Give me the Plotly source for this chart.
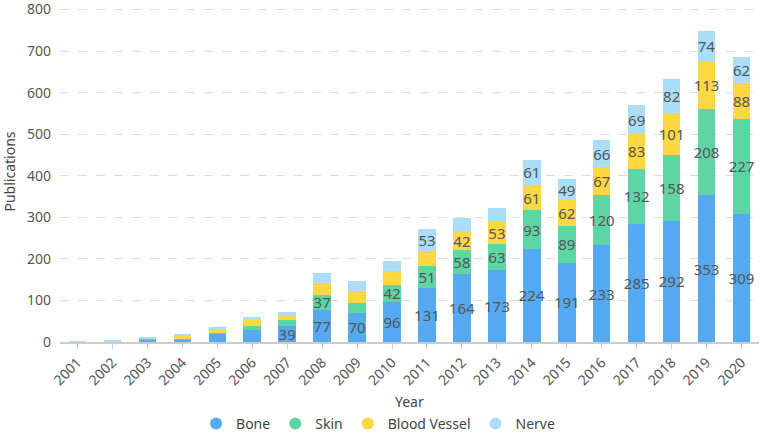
import plotly.graph_objects as go

years = [str(y) for y in range(2001, 2021)]
bone   = [0, 0, 4, 6, 20, 30, 39, 77, 70, 96, 131, 164, 173, 224, 191, 233, 285, 292, 353, 309]
skin   = [1, 1, 5, 1, 2, 8, 15, 37, 25, 42, 51, 58, 63, 93, 89, 120, 132, 158, 208, 227]
vessel = [0, 0, 0, 9, 10, 18, 12, 27, 28, 32, 36, 42, 53, 61, 62, 67, 83, 101, 113, 88]
nerve  = [1, 2, 1, 2, 4, 5, 6, 25, 24, 24, 53, 35, 33, 61, 49, 66, 69, 82, 74, 62]
y_ticks = [0, 100, 200, 300, 400, 500, 600, 700, 800]

series = [("Bone", bone, "#56a9f1"), ("Skin", skin, "#5dd6a6"),
          ("Blood Vessel", vessel, "#fed744"), ("Nerve", nerve, "#a9ddf9")]
label_min = 37
FONT = "Noto Sans"

fig = go.Figure()
for name, vals, col in series:
    fig.add_trace(go.Bar(
        x=years, y=vals, name=name, marker=dict(color=col, line=dict(width=0)),
        text=[str(v) if v >= label_min else "" for v in vals],
        textposition="inside", insidetextanchor="middle", textangle=0,
        textfont=dict(family=FONT, size=15, color="#555555"),
        constraintext="none", cliponaxis=False,
        showlegend=False, hoverinfo="x+y+name"))
for name, vals, col in series:
    fig.add_trace(go.Scatter(
        x=[None], y=[None], mode="markers", name=name,
        marker=dict(symbol="circle", size=12, color=col), showlegend=True))

fig.update_layout(
    barmode="stack", bargap=0.5,
    width=761, height=433,
    margin=dict(l=60, r=2, t=1, b=91, autoexpand=False),
    plot_bgcolor="white", paper_bgcolor="white",
    font=dict(family=FONT, color="#555555", size=14),
    uniformtext=dict(mode=False),
    legend=dict(orientation="h", x=0.455, xanchor="center", y=-0.24, yanchor="middle",
                traceorder="normal",
                font=dict(family=FONT, size=14, color="#444444"),
                itemwidth=30, tracegroupgap=0, bgcolor="rgba(0,0,0,0)"),
    xaxis=dict(type="category", tickangle=-45, tickfont=dict(size=14, color="#555555"),
               showline=True, linecolor="#cccccc", linewidth=1.5,
               ticks="outside", ticklen=5, tickcolor="#cccccc",
               showgrid=False, fixedrange=True, automargin=False),
    yaxis=dict(range=[0, 820.4], tickvals=y_ticks,
               tickfont=dict(size=14, color="#555555"), ticklabeloverflow="allow",
               showgrid=True, gridcolor="#dddddd", griddash="dash", gridwidth=1,
               zeroline=False, showline=False, ticks="", ticklabelstandoff=8,
               automargin=False, fixedrange=True,
               title=dict(text="Publications", font=dict(size=14, color="#444444"), standoff=12)),
    annotations=[dict(text="Year", xref="paper", yref="paper", x=0.5, y=-0.175,
                      xanchor="center", yanchor="middle", showarrow=False,
                      font=dict(family=FONT, size=14, color="#444444"))],
)

fig.write_html("out.html", config={"displayModeBar": False},
               post_script="document.body.style.margin='0';document.body.style.padding='0';"
                           "document.body.style.overflow='hidden';")
